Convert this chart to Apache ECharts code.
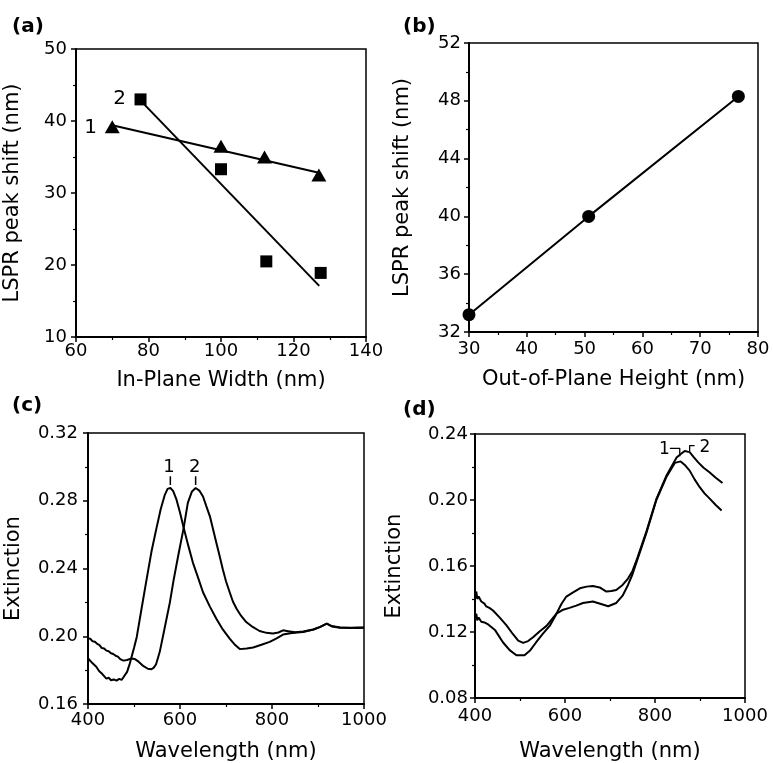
<!DOCTYPE html>
<html>
<head>
<meta charset="utf-8">
<script src="https://cdn.jsdelivr.net/npm/echarts@6/dist/echarts.min.js"></script>
<style>
html,body{margin:0;padding:0;background:#fff;}
#chart{width:773px;height:763px;}
</style>
</head>
<body>
<div id="chart"></div>
<script>
// ---------- tick labels ----------
const aXTicks = [60, 80, 100, 120, 140];
const aYTicks = [10, 20, 30, 40, 50];
const bXTicks = [30, 40, 50, 60, 70, 80];
const bYTicks = [32, 36, 40, 44, 48, 52];
const cXTicks = [400, 600, 800, 1000];
const cYTicks = [0.16, 0.20, 0.24, 0.28, 0.32];
const dXTicks = [400, 600, 800, 1000];
const dYTicks = [0.08, 0.12, 0.16, 0.20, 0.24];

// ---------- panel (a) ----------
const aTriWidth = [70, 100, 112, 127];
const aTriShift = [39.2, 36.5, 35.0, 32.5];
const aSqWidth = [77.8, 100, 112.5, 127.5];
const aSqShift = [43.0, 33.3, 20.5, 18.9];
const aFit1 = [[70, 39.4], [127, 32.8]];
const aFit2 = [[77.7, 42.9], [127.1, 17.1]];
const aLabels = [[64, 39, '1'], [72, 43.1, '2']];

// ---------- panel (b) ----------
const bHeight = [30, 50.7, 76.6];
const bShift = [33.2, 40.0, 48.3];

// ---------- panel (c) ----------
const cCurve1 = [[400,0.187],[405,0.1855],[410,0.184],[414,0.1835],[418,0.182],[424,0.1795],[430,0.178],[435,0.1765],[440,0.175],[445,0.1755],[450,0.174],[456,0.1745],[462,0.1738],[468,0.1748],[473,0.1742],[477,0.1752],[485,0.179],[491,0.184],[500,0.193],[506,0.1996],[515,0.214],[527,0.233],[538,0.250],[549,0.264],[558,0.275],[567,0.2835],[573,0.287],[579,0.2875],[585,0.2858],[592,0.281],[600,0.273],[608,0.264],[618,0.2535],[628,0.2435],[640,0.234],[650,0.226],[665,0.2175],[679,0.2103],[693,0.204],[708,0.1986],[720,0.1948],[730,0.1924],[745,0.1928],[759,0.1934],[777,0.195],[795,0.1967],[810,0.1988],[824,0.201],[840,0.2018],[855,0.2022],[868,0.2025],[890,0.204],[905,0.2055],[919,0.2074],[930,0.206],[948,0.2052],[970,0.2048],[985,0.2052],[1000,0.205]];
const cCurve2 = [[400,0.1986],[405,0.1985],[410,0.197],[415,0.1968],[420,0.1955],[425,0.1948],[430,0.193],[435,0.1928],[440,0.1915],[445,0.1912],[450,0.190],[455,0.1895],[460,0.1885],[465,0.1880],[470,0.1865],[477,0.1856],[485,0.186],[493,0.1868],[502,0.1865],[510,0.185],[520,0.1825],[530,0.1808],[538,0.1805],[543,0.1815],[548,0.1835],[556,0.1908],[566,0.204],[578,0.220],[586,0.233],[596,0.2474],[608,0.264],[617,0.2787],[626,0.2855],[634,0.2875],[642,0.286],[650,0.2825],[657,0.277],[665,0.2708],[672,0.263],[679,0.2552],[686,0.2475],[693,0.2396],[700,0.2325],[708,0.226],[715,0.2205],[723,0.2162],[733,0.212],[744,0.2084],[758,0.2055],[773,0.2031],[788,0.202],[802,0.2016],[814,0.2022],[824,0.2035],[835,0.203],[850,0.2023],[868,0.2028],[890,0.204],[905,0.2055],[919,0.2074],[930,0.2058],[948,0.205],[970,0.205],[985,0.2048],[1000,0.2052]];
const cPeakTicks = [[[579,0.2893],[579,0.2945]], [[634,0.2893],[634,0.2945]]];
const cLabels = [[576, 0.2995, '1'], [632, 0.2995, '2']];

// ---------- panel (d) ----------
const dCurve1 = [[400,0.1426],[403,0.1445],[405,0.140],[408,0.1415],[410,0.141],[414,0.1385],[418,0.138],[421,0.1372],[425,0.1355],[428,0.1352],[432,0.1346],[440,0.133],[455,0.1287],[470,0.124],[484,0.1188],[496,0.1148],[507,0.1134],[518,0.1145],[529,0.1168],[544,0.1205],[559,0.1237],[581,0.1312],[596,0.1335],[610,0.1346],[625,0.136],[640,0.1376],[662,0.1385],[680,0.137],[696,0.1356],[714,0.1376],[728,0.142],[740,0.1485],[750,0.155],[759,0.1623],[781,0.1802],[803,0.200],[825,0.2138],[844,0.2225],[857,0.2234],[867,0.221],[877,0.2178],[888,0.2125],[899,0.2079],[910,0.204],[921,0.201],[935,0.197],[948,0.1937]];
const dCurve2 = [[400,0.1295],[403,0.131],[405,0.127],[408,0.1288],[410,0.1285],[414,0.1262],[418,0.127],[421,0.1258],[425,0.126],[428,0.1248],[432,0.1245],[445,0.121],[462,0.1138],[477,0.109],[492,0.1059],[510,0.1059],[523,0.109],[536,0.1138],[551,0.119],[566,0.1237],[580,0.1305],[592,0.137],[603,0.1415],[618,0.144],[633,0.1465],[648,0.1475],[662,0.1479],[677,0.147],[692,0.1445],[703,0.1448],[714,0.1455],[728,0.1485],[740,0.1524],[750,0.157],[759,0.1635],[781,0.181],[803,0.2005],[825,0.2145],[848,0.2257],[858,0.228],[866,0.2297],[877,0.229],[886,0.226],[896,0.2228],[908,0.2195],[921,0.2168],[935,0.2135],[950,0.2103]];
const dBracket1 = [[833,0.2313],[855,0.2313],[855,0.2265]];
const dBracket2 = [[877,0.2295],[877,0.233],[888,0.233]];
const dLabels = [[821,0.2307,'1'],[911,0.2319,'2']];

// ---------- helpers ----------
const FONT = 'DejaVu Sans';
function valAxis(grid, ticks, name, gap, margin, fmt) {
  return {
    type: 'value', gridIndex: grid,
    min: ticks[0], max: ticks[ticks.length - 1], interval: +(ticks[1] - ticks[0]).toFixed(6),
    name: name, nameLocation: 'middle', nameGap: gap,
    nameTextStyle: {fontFamily: FONT, fontSize: 21, color: '#000'},
    axisLine: {show: true, onZero: false, lineStyle: {color: '#000', width: 2}},
    axisTick: {show: true, inside: false, length: 5, lineStyle: {color: '#000', width: 1.5}},
    minorTick: {show: true, splitNumber: 2, length: 3, lineStyle: {color: '#000', width: 1.2}},
    axisLabel: {fontFamily: FONT, fontSize: 18, color: '#000', margin: margin,
      formatter: fmt || (v => String(v))},
    splitLine: {show: false}, minorSplitLine: {show: false}
  };
}
function lineSeries(data, xi, yi, w) {
  return {type: 'line', xAxisIndex: xi, yAxisIndex: yi, data: data, showSymbol: false, symbol: 'none',
    lineStyle: {color: '#000', width: w || 2}, silent: true, animation: false, z: 3};
}
function labelSeries(data, xi, yi, size) {
  return {type: 'line', xAxisIndex: xi, yAxisIndex: yi, data: data, symbol: 'circle', symbolSize: 0,
    showSymbol: true, lineStyle: {width: 0, opacity: 0}, itemStyle: {color: '#000', opacity: 1},
    silent: true, animation: false, z: 6, connectNulls: false,
    label: {show: true, position: 'inside', formatter: p => p.data[2],
      fontFamily: FONT, fontSize: size, color: '#000', opacity: 1}};
}
const f2 = v => v.toFixed(2);
const gridStyle = {show: true, borderColor: '#000', borderWidth: 1.5, backgroundColor: 'transparent'};
const panelText = {fontFamily: FONT, fontSize: 20, fontWeight: 'bold', color: '#000'};

const option = {
  backgroundColor: '#fff',
  animation: false,
  title: [
    {text: '(a)', left: 7, top: 12, textStyle: panelText},
    {text: '(b)', left: 398, top: 12, textStyle: panelText},
    {text: '(c)', left: 7, top: 391, textStyle: panelText},
    {text: '(d)', left: 398, top: 395, textStyle: panelText}
  ],
  grid: [
    Object.assign({left: 76, top: 49, width: 290, height: 288}, gridStyle),
    Object.assign({left: 469, top: 43, width: 289, height: 289}, gridStyle),
    Object.assign({left: 88, top: 433, width: 276, height: 273}, gridStyle),
    Object.assign({left: 475, top: 434, width: 270, height: 270}, gridStyle)
  ],
  xAxis: [
    valAxis(0, aXTicks, 'In-Plane Width (nm)', 33, 5),
    valAxis(1, bXTicks, 'Out-of-Plane Height (nm)', 37, 8),
    valAxis(2, cXTicks, 'Wavelength (nm)', 37, 7),
    valAxis(3, dXTicks, 'Wavelength (nm)', 43, 9)
  ],
  yAxis: [
    valAxis(0, aYTicks, 'LSPR peak shift (nm)', 53, 9),
    valAxis(1, bYTicks, 'LSPR peak shift (nm)', 56, 8),
    valAxis(2, cYTicks, 'Extinction', 64, 10, f2),
    valAxis(3, dYTicks, 'Extinction', 70, 7, f2)
  ],
  series: [
    // (a)
    lineSeries(aFit1, 0, 0, 2),
    lineSeries(aFit2, 0, 0, 2),
    {type: 'scatter', xAxisIndex: 0, yAxisIndex: 0, symbol: 'triangle', symbolSize: [15, 13],
      itemStyle: {color: '#000', opacity: 1}, data: aTriWidth.map((x, i) => [x, aTriShift[i]]), z: 4},
    {type: 'scatter', xAxisIndex: 0, yAxisIndex: 0, symbol: 'rect', symbolSize: 12,
      itemStyle: {color: '#000', opacity: 1}, data: aSqWidth.map((x, i) => [x, aSqShift[i]]), z: 4},
    labelSeries(aLabels.map(d => [d[0], d[1], d[2]]).slice(0, 1), 0, 0, 20),
    labelSeries(aLabels.slice(1, 2), 0, 0, 20),
    // (b)
    {type: 'line', xAxisIndex: 1, yAxisIndex: 1, symbol: 'circle', symbolSize: 13, showSymbol: true,
      lineStyle: {color: '#000', width: 2}, itemStyle: {color: '#000', opacity: 1},
      data: bHeight.map((x, i) => [x, bShift[i]]), z: 4},
    // (c)
    lineSeries(cCurve1, 2, 2, 2),
    lineSeries(cCurve2, 2, 2, 2),
    lineSeries(cPeakTicks[0], 2, 2, 1.5),
    lineSeries(cPeakTicks[1], 2, 2, 1.5),
    labelSeries(cLabels.slice(0, 1), 2, 2, 18),
    labelSeries(cLabels.slice(1, 2), 2, 2, 18),
    // (d)
    lineSeries(dCurve1, 3, 3, 2),
    lineSeries(dCurve2, 3, 3, 2),
    lineSeries(dBracket1, 3, 3, 1.3),
    lineSeries(dBracket2, 3, 3, 1.3),
    labelSeries(dLabels.slice(0, 1), 3, 3, 17),
    labelSeries(dLabels.slice(1, 2), 3, 3, 17)
  ]
};
const chart = echarts.init(document.getElementById('chart'), null, {renderer: 'canvas'});
chart.setOption(option);
</script>
</body>
</html>
